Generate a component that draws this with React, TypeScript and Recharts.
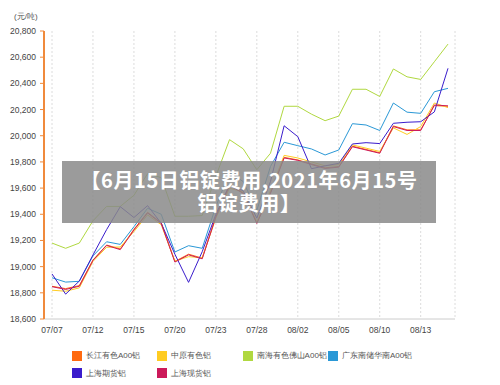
import { LineChart, Line, XAxis, YAxis, CartesianGrid } from 'recharts'

// trading days, 2021
const dates = [
  '07/07', '07/08', '07/09', '07/12', '07/13', '07/14', '07/15', '07/16', '07/19', '07/20',
  '07/21', '07/22', '07/23', '07/26', '07/27', '07/28', '07/29', '07/30', '08/02', '08/03',
  '08/04', '08/05', '08/06', '08/09', '08/10', '08/11', '08/12', '08/13', '08/16', '08/17',
]

// 元/吨
const changjiang = [
  18850, 18832, 18855, 19050, 19165, 19135, 19285, 19415, 19335, 19040,
  19095, 19065, 19385, 19625, 19565, 19335, 19565, 19835, 19815, 19785,
  19755, 19765, 19920, 19895, 19870, 20075, 20045, 20045, 20230, 20225,
]
const zhongyuan = [
  18820, 18812, 18838, 19040, 19148, 19150, 19268, 19395, 19320, 19042,
  19076, 19068, 19370, 19600, 19570, 19340, 19580, 19850, 19830, 19800,
  19770, 19780, 19930, 19905, 19880, 20060, 20010, 20070, 20250, 20215,
]
const nanhaiFoshan = [
  19180, 19140, 19180, 19350, 19460, 19460, 19545, 19710, 19680, 19385,
  19385, 19390, 19690, 19970, 19900, 19740, 19866, 20225, 20225, 20165,
  20115, 20150, 20355, 20355, 20300, 20510, 20450, 20430, 20565, 20700,
]
const guangdongHuanan = [
  18915, 18882, 18888, 19082, 19190, 19170, 19305, 19446, 19400, 19112,
  19160, 19140, 19460, 19720, 19650, 19430, 19765, 19950, 19924, 19899,
  19853, 19891, 20092, 20082, 20040, 20250, 20180, 20171, 20336, 20362,
]
const shFutures = [
  18944, 18790, 18890, 19089, 19283, 19458, 19375, 19466, 19331, 19095,
  18880, 19114, 19400, 19620, 19580, 19370, 19650, 20076, 19993, 19748,
  19770, 19789, 19937, 19947, 19940, 20095, 20103, 20107, 20182, 20515,
]
const shSpot = [
  18847, 18826, 18850, 19048, 19162, 19130, 19280, 19410, 19330, 19035,
  19090, 19060, 19380, 19620, 19560, 19330, 19560, 19830, 19812, 19780,
  19750, 19760, 19916, 19891, 19866, 20070, 20040, 20040, 20235, 20228,
]

const yTicks = [18600, 18800, 19000, 19200, 19400, 19600, 19800, 20000, 20200, 20400, 20600, 20800]

const series = [
  { key: 'changjiang', name: '长江有色A00铝', color: '#ff6a10', values: changjiang },
  { key: 'zhongyuan', name: '中原有色铝', color: '#ffcc22', values: zhongyuan },
  { key: 'nanhai', name: '南海有色佛山A00铝', color: '#b0d840', values: nanhaiFoshan },
  { key: 'guangdong', name: '广东南储华南A00铝', color: '#2a98d6', values: guangdongHuanan },
  { key: 'shfe', name: '上海期货铝', color: '#3a1ccc', values: shFutures },
  { key: 'spot', name: '上海现货铝', color: '#cc1a5a', values: shSpot },
]

const titleLines = ['【6月15日铝锭费用,2021年6月15号', '铝锭费用】']

const data = dates.map((date, i) => {
  const row: Record<string, string | number> = { date }
  series.forEach((s) => { row[s.key] = s.values[i] })
  return row
})

const labelDates = dates.filter((_, i) => i % 3 === 0)

const tickFont = { fontSize: 8.5, fill: '#444', fontFamily: 'Liberation Sans, Arial, sans-serif' }

export default function App() {
  return (
    <div style={{ position: 'absolute', left: 0, top: 0, width: 500, height: 385, background: '#fff', fontFamily: 'Liberation Sans, Arial, sans-serif' }}>
      <div style={{ position: 'absolute', left: 14, top: 11, fontSize: 8, color: '#555' }}>(元/吨)</div>
      <LineChart width={500} height={385} data={data} margin={{ top: 31, right: 45, bottom: 46, left: 0 }}>
        <CartesianGrid horizontal={false} stroke="#dcdcdc" strokeDasharray="2 2" />
        <XAxis
          dataKey="date"
          ticks={labelDates}
          interval={0}
          height={20}
          padding={{ left: 8, right: 7 }}
          axisLine={{ stroke: '#cccccc' }}
          tickLine={false}
          tickSize={6}
          tick={tickFont}
        />
        <YAxis
          width={44}
          domain={[18600, 20800]}
          ticks={yTicks}
          interval={0}
          tickSize={4}
          tickMargin={4}
          axisLine={{ stroke: '#f08a3c', strokeWidth: 2 }}
          tickLine={{ stroke: '#f08a3c' }}
          tick={tickFont}
          tickFormatter={(v: number) => v.toLocaleString('en-US')}
        />
        {series.map((s) => (
          <Line
            key={s.key}
            dataKey={s.key}
            name={s.name}
            stroke={s.color}
            strokeWidth={1}
            dot={false}
            type="linear"
            isAnimationActive={false}
          />
        ))}
      </LineChart>

      {/* title banner laid over the plot */}
      <div
        style={{
          position: 'absolute', left: 62, top: 161, width: 374, height: 62,
          background: 'rgba(138,138,138,0.85)', color: '#fff',
          fontFamily: '"Noto Sans CJK SC", sans-serif', fontWeight: 700, fontSize: 20,
          letterSpacing: 0.6, textAlign: 'center',
        }}
      >
        {titleLines.map((t, i) => (
          <div key={i} style={{ position: 'absolute', left: 0, right: 0, top: 7 + i * 23, height: 23, lineHeight: '23px', whiteSpace: 'nowrap' }}>
            {t}
          </div>
        ))}
      </div>

      {/* legend */}
      {series.map((s, i) => (
        <div
          key={s.key}
          style={{
            position: 'absolute',
            left: 72 + (i % 4) * 85.3,
            top: 350 + Math.floor(i / 4) * 17.7,
            display: 'flex', alignItems: 'center', fontSize: 8, color: '#555',
          }}
        >
          <span style={{ display: 'inline-block', width: 10, height: 10, background: s.color, marginRight: 4 }} />
          {s.name}
        </div>
      ))}
    </div>
  )
}
